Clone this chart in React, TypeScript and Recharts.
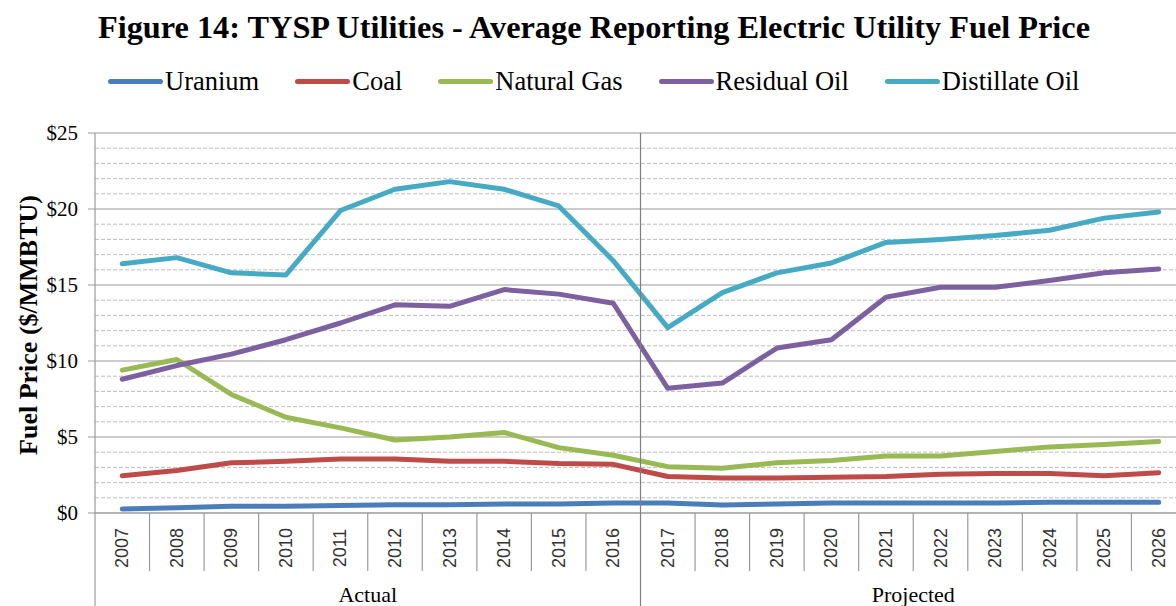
import { CartesianGrid, Line, LineChart, ReferenceLine, XAxis, YAxis } from "recharts";

const years = [
  "2007", "2008", "2009", "2010", "2011", "2012", "2013", "2014", "2015", "2016",
  "2017", "2018", "2019", "2020", "2021", "2022", "2023", "2024", "2025", "2026",
];
const uranium = [0.27, 0.35, 0.45, 0.45, 0.5, 0.55, 0.55, 0.6, 0.6, 0.65, 0.65, 0.53, 0.6, 0.65, 0.65, 0.65, 0.65, 0.7, 0.7, 0.7];
const coal = [2.45, 2.8, 3.3, 3.4, 3.55, 3.55, 3.4, 3.4, 3.25, 3.2, 2.4, 2.3, 2.3, 2.35, 2.4, 2.55, 2.6, 2.6, 2.45, 2.65];
const naturalGas = [9.4, 10.1, 7.8, 6.3, 5.6, 4.8, 5.0, 5.3, 4.3, 3.8, 3.05, 2.95, 3.3, 3.45, 3.75, 3.75, 4.05, 4.35, 4.5, 4.7];
const residualOil = [8.8, 9.7, 10.45, 11.4, 12.5, 13.7, 13.6, 14.7, 14.4, 13.8, 8.2, 8.55, 10.85, 11.4, 14.2, 14.85, 14.85, 15.3, 15.8, 16.05];
const distillateOil = [16.4, 16.8, 15.8, 15.66, 19.9, 21.3, 21.8, 21.3, 20.2, 16.6, 12.2, 14.5, 15.8, 16.45, 17.8, 18.0, 18.25, 18.6, 19.4, 19.8];
const groups = [
  { name: "Actual", from: 0, to: 9 },
  { name: "Projected", from: 10, to: 19 },
];
const majorTicks = [0, 5, 10, 15, 20, 25];
const minorTicks = Array.from({ length: 26 }, (_, i) => i).filter((v) => v % 5 !== 0);

const series = [
  { key: "uranium", name: "Uranium", color: "#4A7EBB" },
  { key: "coal", name: "Coal", color: "#BE4B48" },
  { key: "naturalGas", name: "Natural Gas", color: "#98B954" },
  { key: "residualOil", name: "Residual Oil", color: "#7D60A0" },
  { key: "distillateOil", name: "Distillate Oil", color: "#46AAC5" },
];

const data = years.map((year, i) => ({
  year,
  uranium: uranium[i],
  coal: coal[i],
  naturalGas: naturalGas[i],
  residualOil: residualOil[i],
  distillateOil: distillateOil[i],
}));

const CHART_W = 1200;
const CHART_H = 606;
const MARGIN = { top: 133, right: 14, bottom: 0, left: 0 };
const Y_AXIS_W = 95;
const X_AXIS_H = 93;
const PLOT_W = CHART_W - MARGIN.left - MARGIN.right - Y_AXIS_W;
const PLOT_H = CHART_H - MARGIN.top - MARGIN.bottom - X_AXIS_H;
const BAND = PLOT_W / years.length;
const SERIF = "'Liberation Serif', 'Times New Roman', serif";
const AXIS_GRAY = "#9A9A9A";

function YearTick({ x, y, payload, index }: any) {
  const right = x + BAND / 2;
  const group = groups.find((g) => g.to === index);
  const label = groups.find((g) => Math.floor((g.from + g.to) / 2) === index);
  return (
    <g>
      <text
        x={x}
        y={y + 35}
        transform={`rotate(-90, ${x}, ${y + 35})`}
        textAnchor="middle"
        dominantBaseline="central"
        fontFamily="'Liberation Sans', Arial, sans-serif"
        fontSize={18}
        fill="#333"
      >
        {payload.value}
      </text>
      {index === 0 ? (
        <line x1={x - BAND / 2} x2={x - BAND / 2} y1={y} y2={y + X_AXIS_H} stroke={AXIS_GRAY} strokeWidth={1.2} />
      ) : null}
      {group && index < years.length - 1 ? (
        <line x1={right} x2={right} y1={y - PLOT_H} y2={y + X_AXIS_H} stroke="#7F7F7F" strokeWidth={1.2} />
      ) : (
        <line x1={right} x2={right} y1={y} y2={y + 58} stroke={AXIS_GRAY} strokeWidth={1.2} />
      )}
      {label ? (
        <text x={right} y={y + 89} textAnchor="middle" fontFamily={SERIF} fontSize={22} fill="#000">
          {label.name}
        </text>
      ) : null}
    </g>
  );
}

function YLabel({ viewBox }: any) {
  const cx = viewBox.x + 28;
  const cy = viewBox.y + viewBox.height / 2 + 2;
  return (
    <text
      x={cx}
      y={cy}
      transform={`rotate(-90, ${cx}, ${cy})`}
      textAnchor="middle"
      dominantBaseline="central"
      fontFamily={SERIF}
      fontWeight="bold"
      fontSize={26}
      fill="#000"
    >
      Fuel Price ($/MMBTU)
    </text>
  );
}

export default function App() {
  return (
    <div
      style={{
        position: "absolute",
        left: 0,
        top: 0,
        width: 1176,
        height: 606,
        overflow: "hidden",
        background: "#fff",
        fontFamily: SERIF,
      }}
    >
      <LineChart width={CHART_W} height={CHART_H} data={data} margin={MARGIN}>
        <CartesianGrid vertical={false} stroke={AXIS_GRAY} strokeWidth={1.2} />
        {minorTicks.map((t) => (
          <ReferenceLine
            key={`minor-${t}`}
            y={t}
            stroke="#BDBDBD"
            strokeWidth={1}
            strokeDasharray="4 2"
            ifOverflow="visible"
          />
        ))}
        <XAxis
          dataKey="year"
          scale="band"
          interval={0}
          height={X_AXIS_H}
          tickLine={false}
          tickSize={0}
          tickMargin={0}
          axisLine={{ stroke: AXIS_GRAY, strokeWidth: 1.2 }}
          tick={<YearTick />}
        />
        <YAxis
          width={Y_AXIS_W}
          domain={[0, 25]}
          ticks={majorTicks}
          interval={0}
          tickFormatter={(v: number) => `$${v}`}
          tick={{ fontFamily: SERIF, fontSize: 21, fill: "#000" }}
          tickSize={7}
          tickMargin={10}
          tickLine={{ stroke: AXIS_GRAY }}
          axisLine={{ stroke: AXIS_GRAY, strokeWidth: 1.2 }}
          label={<YLabel />}
        />
        {series.map((s) => (
          <Line
            key={s.key}
            type="linear"
            dataKey={s.key}
            name={s.name}
            stroke={s.color}
            strokeWidth={5}
            strokeLinejoin="round"
            strokeLinecap="round"
            dot={false}
            activeDot={false}
            isAnimationActive={false}
          />
        ))}
      </LineChart>
      <div
        style={{
          position: "absolute",
          left: 6,
          top: 11,
          width: 1176,
          textAlign: "center",
          fontWeight: "bold",
          fontSize: 32.3,
          lineHeight: "32px",
          color: "#000",
        }}
      >
        Figure 14: TYSP Utilities - Average Reporting Electric Utility Fuel Price
      </div>
      <div
        style={{
          position: "absolute",
          left: 108,
          top: 66,
          display: "flex",
          alignItems: "center",
          gap: 36,
          fontSize: 26.5,
          lineHeight: "30px",
          color: "#000",
        }}
      >
        {series.map((s) => (
          <div key={s.key} style={{ display: "flex", alignItems: "center" }}>
            <span
              style={{
                display: "inline-block",
                width: 55,
                height: 5,
                borderRadius: 3,
                background: s.color,
                marginRight: 2,
              }}
            />
            <span>{s.name}</span>
          </div>
        ))}
      </div>
    </div>
  );
}
